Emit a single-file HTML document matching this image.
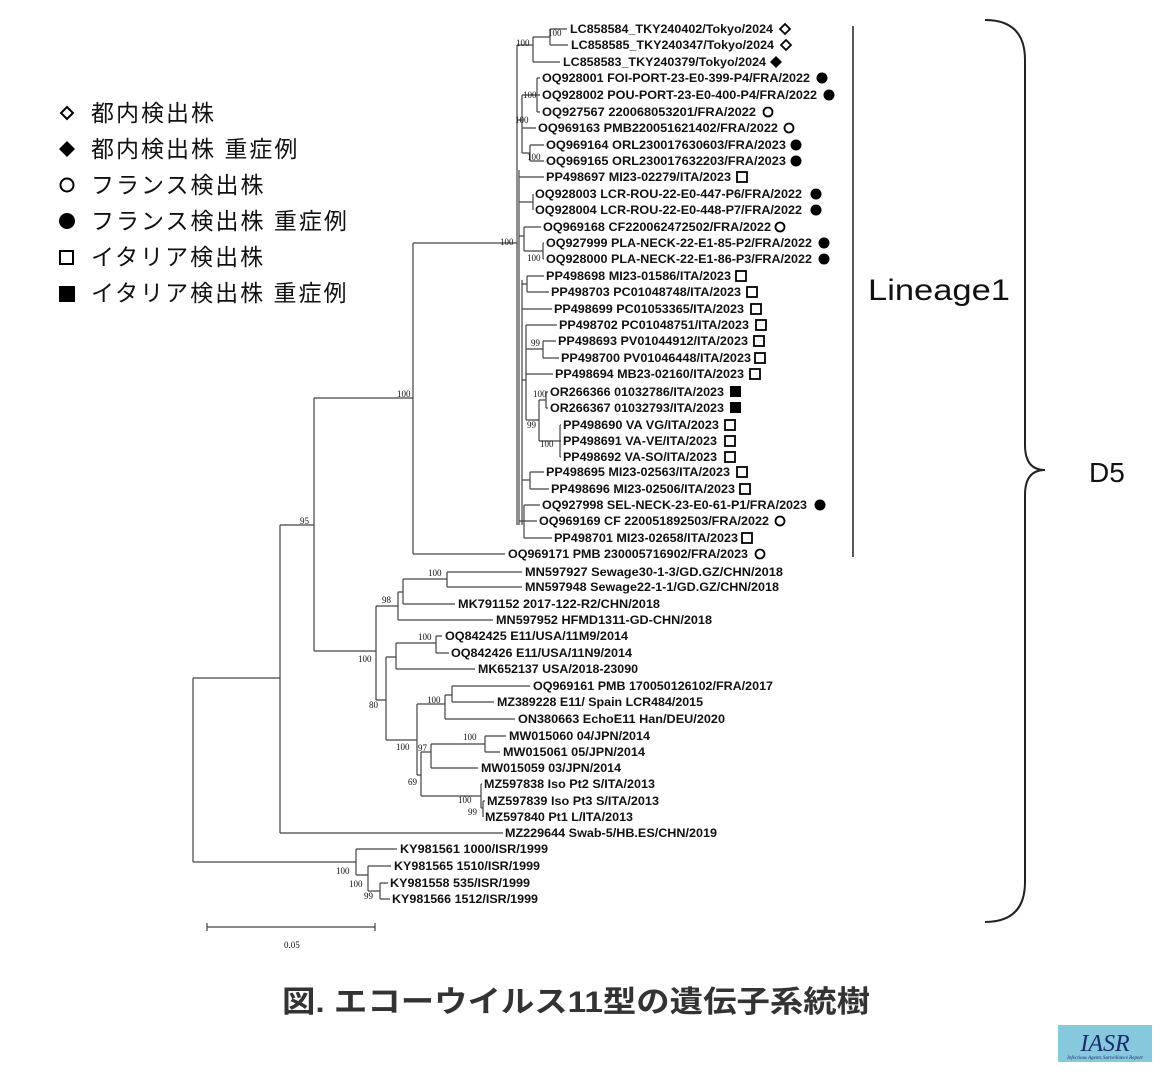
<!DOCTYPE html>
<html><head><meta charset="utf-8"><style>
html,body{margin:0;padding:0;background:#fff;}
svg{display:block;}
.l{font-family:"Liberation Sans",sans-serif;font-size:11.5px;font-weight:bold;fill:#111;}
.b{font-family:"Liberation Serif",serif;font-size:9px;fill:#111;}
.g{font-family:"Liberation Sans","Noto Sans CJK JP",sans-serif;font-size:23px;fill:#111;letter-spacing:2px;}
</style></head><body>
<svg width="1171" height="1080" viewBox="0 0 1171 1080" xmlns="http://www.w3.org/2000/svg">
<g stroke="#444" stroke-width="1.2" fill="none">
<path d="M193 678V862M193 678H280M193 862H356"/>
<path d="M280 525V833M280 833H503M280 525H314"/>
<path d="M314 398V651M314 398H413M314 651H376"/>
<path d="M413 243V554M413 554H505M413 243H517"/>
<path d="M517 45V525M519 170V525M522 280V525"/>
<path d="M517 45H533M533 37V62M533 62H560M533 37H550M550 29V45M550 29H567M550 45H568"/>
<path d="M517 120H522M522 95V153M522 95H537M537 78V112M537 78H540M537 95H540M537 112H540M522 128H536M522 153H530M530 145V161M530 145H544M530 161H544"/>
<path d="M519 177H544M519 202H533M533 194V210M533 194H533M533 210H533"/>
<path d="M519 236H524M524 227V251M524 227H541M524 251H543M543 243V259M543 243H544M543 259H544"/>
<path d="M522 284H527M527 276V292M527 276H544M527 292H549M522 309H552"/>
<path d="M522 380H526M526 325V420M526 325H557M526 349H543M543 341V358M543 341H556M543 358H559M526 374H553M526 420H539M539 400V441M539 400H546M546 392V408M546 392H548M546 408H548M539 441H560M560 425V457M560 425H561M560 441H561M560 457H561"/>
<path d="M522 480H530M530 472V489M530 472H544M530 489H549"/>
<path d="M519 521H524M524 505V538M524 505H540M524 521H537M524 538H552"/>
<path d="M376 606V700M376 606H398M398 592V620M398 620H493M398 592H403M403 579V604M403 604H455M403 579H447M447 572V587M447 572H522M447 587H522"/>
<path d="M376 700H386M386 657V740M386 657H396M396 643V669M396 669H475M396 643H436M436 636V653M436 636H442M436 653H449"/>
<path d="M386 740H417M417 704V775M417 704H445M445 695V719M445 719H515M445 695H452M452 686V702M452 686H530M452 702H494M417 775H421M421 752V796M421 752H431M431 744V768M431 768H478M431 744H485M485 736V752M485 736H506M485 752H500M421 796H481M481 784V808M481 784H482M481 808H483M483 801V817M483 801H485M483 817H483"/>
<path d="M356 849V875M356 849H397M356 875H368M368 866V891M368 866H391M368 891H380M380 883V899M380 883H388M380 899H390"/>
<path d="M207 927H375M207 923V931M375 923V931"/>
</g>
<text class="b" x="284" y="948">0.05</text>
<g class="b">
<text x="548" y="36">100</text><text x="516" y="46">100</text><text x="523" y="98">100</text><text x="515" y="123">100</text><text x="527" y="160">100</text>
<text x="500" y="245">100</text><text x="527" y="261">100</text><text x="531" y="346">99</text><text x="533" y="397">100</text><text x="527" y="428">99</text><text x="540" y="447">100</text>
<text x="397" y="397">100</text><text x="300" y="524">95</text>
<text x="428" y="576">100</text><text x="382" y="603">98</text><text x="418" y="640">100</text><text x="358" y="662">100</text><text x="369" y="708">80</text>
<text x="427" y="703">100</text><text x="463" y="740">100</text><text x="396" y="750">100</text><text x="418" y="751">97</text><text x="408" y="785">69</text><text x="458" y="803">100</text><text x="468" y="815">99</text>
<text x="336" y="874">100</text><text x="349" y="887">100</text><text x="364" y="899">99</text>
</g>
<g class="l">
<text x="570" y="33" textLength="203" lengthAdjust="spacingAndGlyphs">LC858584_TKY240402/Tokyo/2024</text>
<text x="571" y="49" textLength="203" lengthAdjust="spacingAndGlyphs">LC858585_TKY240347/Tokyo/2024</text>
<text x="563" y="66" textLength="203" lengthAdjust="spacingAndGlyphs">LC858583_TKY240379/Tokyo/2024</text>
<text x="542" y="82" textLength="268" lengthAdjust="spacingAndGlyphs">OQ928001 FOI-PORT-23-E0-399-P4/FRA/2022</text>
<text x="542" y="99" textLength="275" lengthAdjust="spacingAndGlyphs">OQ928002 POU-PORT-23-E0-400-P4/FRA/2022</text>
<text x="542" y="116" textLength="214" lengthAdjust="spacingAndGlyphs">OQ927567  220068053201/FRA/2022</text>
<text x="538" y="132" textLength="240" lengthAdjust="spacingAndGlyphs">OQ969163  PMB220051621402/FRA/2022</text>
<text x="546" y="149" textLength="240" lengthAdjust="spacingAndGlyphs">OQ969164  ORL230017630603/FRA/2023</text>
<text x="546" y="165" textLength="240" lengthAdjust="spacingAndGlyphs">OQ969165  ORL230017632203/FRA/2023</text>
<text x="546" y="181" textLength="185" lengthAdjust="spacingAndGlyphs">PP498697 MI23-02279/ITA/2023</text>
<text x="535" y="198" textLength="267" lengthAdjust="spacingAndGlyphs">OQ928003 LCR-ROU-22-E0-447-P6/FRA/2022</text>
<text x="535" y="214" textLength="267" lengthAdjust="spacingAndGlyphs">OQ928004 LCR-ROU-22-E0-448-P7/FRA/2022</text>
<text x="543" y="231" textLength="228" lengthAdjust="spacingAndGlyphs">OQ969168  CF220062472502/FRA/2022</text>
<text x="546" y="247" textLength="266" lengthAdjust="spacingAndGlyphs">OQ927999 PLA-NECK-22-E1-85-P2/FRA/2022</text>
<text x="546" y="263" textLength="266" lengthAdjust="spacingAndGlyphs">OQ928000 PLA-NECK-22-E1-86-P3/FRA/2022</text>
<text x="546" y="280" textLength="185" lengthAdjust="spacingAndGlyphs">PP498698 MI23-01586/ITA/2023</text>
<text x="551" y="296" textLength="190" lengthAdjust="spacingAndGlyphs">PP498703 PC01048748/ITA/2023</text>
<text x="554" y="313" textLength="190" lengthAdjust="spacingAndGlyphs">PP498699 PC01053365/ITA/2023</text>
<text x="559" y="329" textLength="190" lengthAdjust="spacingAndGlyphs">PP498702 PC01048751/ITA/2023</text>
<text x="558" y="345" textLength="190" lengthAdjust="spacingAndGlyphs">PP498693 PV01044912/ITA/2023</text>
<text x="561" y="362" textLength="190" lengthAdjust="spacingAndGlyphs">PP498700 PV01046448/ITA/2023</text>
<text x="555" y="378" textLength="189" lengthAdjust="spacingAndGlyphs">PP498694 MB23-02160/ITA/2023</text>
<text x="550" y="396" textLength="174" lengthAdjust="spacingAndGlyphs">OR266366 01032786/ITA/2023</text>
<text x="550" y="412" textLength="174" lengthAdjust="spacingAndGlyphs">OR266367 01032793/ITA/2023</text>
<text x="563" y="429" textLength="156" lengthAdjust="spacingAndGlyphs">PP498690 VA VG/ITA/2023</text>
<text x="563" y="445" textLength="154" lengthAdjust="spacingAndGlyphs">PP498691 VA-VE/ITA/2023</text>
<text x="563" y="461" textLength="154" lengthAdjust="spacingAndGlyphs">PP498692 VA-SO/ITA/2023</text>
<text x="546" y="476" textLength="184" lengthAdjust="spacingAndGlyphs">PP498695 MI23-02563/ITA/2023</text>
<text x="551" y="493" textLength="184" lengthAdjust="spacingAndGlyphs">PP498696 MI23-02506/ITA/2023</text>
<text x="542" y="509" textLength="265" lengthAdjust="spacingAndGlyphs">OQ927998 SEL-NECK-23-E0-61-P1/FRA/2023</text>
<text x="539" y="525" textLength="230" lengthAdjust="spacingAndGlyphs">OQ969169 CF 220051892503/FRA/2022</text>
<text x="554" y="542" textLength="184" lengthAdjust="spacingAndGlyphs">PP498701 MI23-02658/ITA/2023</text>
<text x="508" y="558" textLength="240" lengthAdjust="spacingAndGlyphs">OQ969171 PMB 230005716902/FRA/2023</text>
<text x="525" y="576" textLength="258" lengthAdjust="spacingAndGlyphs">MN597927 Sewage30-1-3/GD.GZ/CHN/2018</text>
<text x="525" y="591" textLength="254" lengthAdjust="spacingAndGlyphs">MN597948 Sewage22-1-1/GD.GZ/CHN/2018</text>
<text x="458" y="608" textLength="202" lengthAdjust="spacingAndGlyphs">MK791152 2017-122-R2/CHN/2018</text>
<text x="496" y="624" textLength="216" lengthAdjust="spacingAndGlyphs">MN597952 HFMD1311-GD-CHN/2018</text>
<text x="445" y="640" textLength="183" lengthAdjust="spacingAndGlyphs">OQ842425 E11/USA/11M9/2014</text>
<text x="451" y="657" textLength="181" lengthAdjust="spacingAndGlyphs">OQ842426 E11/USA/11N9/2014</text>
<text x="478" y="673" textLength="160" lengthAdjust="spacingAndGlyphs">MK652137 USA/2018-23090</text>
<text x="533" y="690" textLength="240" lengthAdjust="spacingAndGlyphs">OQ969161 PMB 170050126102/FRA/2017</text>
<text x="497" y="706" textLength="206" lengthAdjust="spacingAndGlyphs">MZ389228 E11/ Spain LCR484/2015</text>
<text x="518" y="723" textLength="207" lengthAdjust="spacingAndGlyphs">ON380663 EchoE11 Han/DEU/2020</text>
<text x="509" y="740" textLength="141" lengthAdjust="spacingAndGlyphs">MW015060 04/JPN/2014</text>
<text x="503" y="756" textLength="142" lengthAdjust="spacingAndGlyphs">MW015061 05/JPN/2014</text>
<text x="481" y="772" textLength="140" lengthAdjust="spacingAndGlyphs">MW015059 03/JPN/2014</text>
<text x="484" y="788" textLength="171" lengthAdjust="spacingAndGlyphs">MZ597838 Iso Pt2 S/ITA/2013</text>
<text x="487" y="805" textLength="172" lengthAdjust="spacingAndGlyphs">MZ597839 Iso Pt3 S/ITA/2013</text>
<text x="485" y="821" textLength="148" lengthAdjust="spacingAndGlyphs">MZ597840 Pt1 L/ITA/2013</text>
<text x="505" y="837" textLength="212" lengthAdjust="spacingAndGlyphs">MZ229644 Swab-5/HB.ES/CHN/2019</text>
<text x="400" y="853" textLength="148" lengthAdjust="spacingAndGlyphs">KY981561 1000/ISR/1999</text>
<text x="394" y="870" textLength="146" lengthAdjust="spacingAndGlyphs">KY981565 1510/ISR/1999</text>
<text x="390" y="887" textLength="140" lengthAdjust="spacingAndGlyphs">KY981558 535/ISR/1999</text>
<text x="392" y="903" textLength="146" lengthAdjust="spacingAndGlyphs">KY981566 1512/ISR/1999</text>
</g>
<g stroke="#000" stroke-width="1.8" fill="none">
<path d="M785 24l5 5-5 5-5-5z"/><path d="M786 40l5 5-5 5-5-5z"/>
<circle cx="768" cy="112" r="4.5"/><circle cx="789" cy="128" r="4.5"/><circle cx="780" cy="227" r="4.5"/><circle cx="780" cy="521" r="4.5"/><circle cx="760" cy="554" r="4.5"/>
<rect x="737" y="172" width="10" height="10"/><rect x="736" y="271" width="10" height="10"/><rect x="747" y="287" width="10" height="10"/><rect x="751" y="304" width="10" height="10"/><rect x="756" y="320" width="10" height="10"/><rect x="754" y="336" width="10" height="10"/><rect x="755" y="353" width="10" height="10"/><rect x="750" y="369" width="10" height="10"/><rect x="725" y="420" width="10" height="10"/><rect x="725" y="436" width="10" height="10"/><rect x="725" y="452" width="10" height="10"/><rect x="737" y="467" width="10" height="10"/><rect x="740" y="484" width="10" height="10"/><rect x="742" y="533" width="10" height="10"/>
</g>
<g fill="#000">
<path d="M776 56l6 6-6 6-6-6z"/>
<circle cx="822" cy="78" r="5.5"/><circle cx="829" cy="95" r="5.5"/><circle cx="796" cy="145" r="5.5"/><circle cx="796" cy="161" r="5.5"/><circle cx="816" cy="194" r="5.5"/><circle cx="816" cy="210" r="5.5"/><circle cx="824" cy="243" r="5.5"/><circle cx="824" cy="259" r="5.5"/><circle cx="820" cy="505" r="5.5"/>
<rect x="730" y="386" width="11" height="11"/><rect x="730" y="402" width="11" height="11"/>
</g>
<line x1="853" y1="26" x2="853" y2="557" stroke="#222" stroke-width="1.5"/>
<text x="868" y="300" font-family="'Liberation Sans',sans-serif" font-size="30" fill="#111" textLength="142" lengthAdjust="spacingAndGlyphs">Lineage1</text>
<path d="M985 20Q1025 20 1025 60V445Q1025 470 1045 470Q1025 470 1025 495V882Q1025 922 985 922" stroke="#222" stroke-width="2" fill="none"/>
<text x="1089" y="482" font-family="'Liberation Sans',sans-serif" font-size="28" fill="#111">D5</text>
<g stroke="#000" stroke-width="2" fill="none">
<path d="M67 107l6 6-6 6-6-6z"/><circle cx="67" cy="185" r="6.5"/><rect x="60" y="251" width="13" height="13"/>
</g>
<g fill="#000"><path d="M67 141l8 8-8 8-8-8z"/><circle cx="67" cy="221" r="8"/><rect x="59" y="286" width="16" height="16"/></g>
<text class="g" x="91" y="121">都内検出株</text>
<text class="g" x="91" y="157">都内検出株 重症例</text>
<text class="g" x="91" y="193">フランス検出株</text>
<text class="g" x="91" y="229">フランス検出株 重症例</text>
<text class="g" x="91" y="265">イタリア検出株</text>
<text class="g" x="91" y="301">イタリア検出株 重症例</text>
<text x="282" y="1012" font-family="'Liberation Sans','Noto Sans CJK JP',sans-serif" font-size="30" font-weight="bold" fill="#333" textLength="588" lengthAdjust="spacingAndGlyphs">図. エコーウイルス11型の遺伝子系統樹</text>
<rect x="1058" y="1025" width="94" height="37" fill="#86c9dc"/>
<text x="1105" y="1051" text-anchor="middle" font-family="'Liberation Serif',serif" font-style="italic" font-size="24" fill="#1c2a6e">IASR</text>
<text x="1105" y="1059" text-anchor="middle" font-family="'Liberation Serif',serif" font-style="italic" font-size="5" fill="#1c2a6e">Infectious Agents Surveillance Report</text>
</svg>
</body></html>
